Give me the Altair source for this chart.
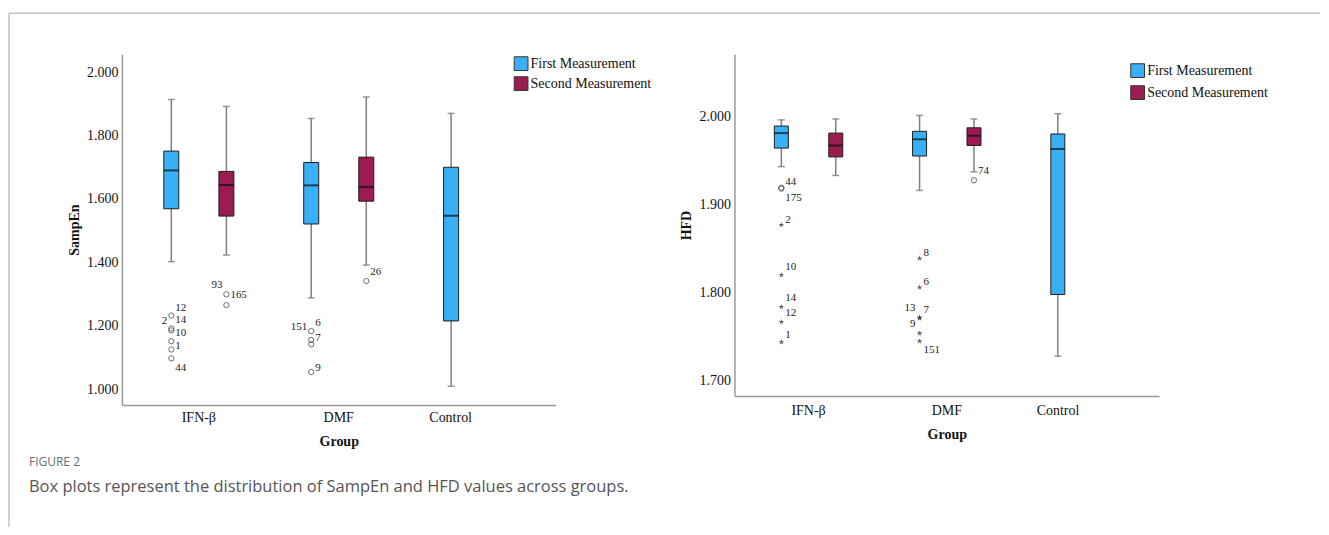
import altair as alt
import pandas as pd

GROUPS = ["IFN-β", "DMF", "Control"]
MEAS = ["First Measurement", "Second Measurement"]
F, S = MEAS

# ---- boxes (same order for both panels) ----
box_group = ["IFN-β", "IFN-β", "DMF", "DMF", "Control"]
box_meas = [F, S, F, S, F]

sampen_low = [1.402, 1.423, 1.288, 1.391, 1.009]
sampen_q1 = [1.569, 1.546, 1.521, 1.593, 1.215]
sampen_med = [1.690, 1.644, 1.643, 1.638, 1.547]
sampen_q3 = [1.751, 1.687, 1.715, 1.732, 1.700]
sampen_high = [1.914, 1.892, 1.854, 1.922, 1.870]

hfd_low = [1.943, 1.933, 1.916, 1.937, 1.728]
hfd_q1 = [1.964, 1.954, 1.955, 1.967, 1.798]
hfd_med = [1.981, 1.967, 1.974, 1.978, 1.963]
hfd_q3 = [1.989, 1.981, 1.983, 1.987, 1.980]
hfd_high = [1.996, 1.997, 2.001, 1.997, 2.003]

# ---- outliers ----
sampen_out_group = ["IFN-β"] * 8 + ["DMF"] * 5
sampen_out_meas = [F] * 6 + [S] * 2 + [F] * 4 + [S]
sampen_out_value = [1.232, 1.191, 1.185, 1.151, 1.125, 1.097, 1.299, 1.265,
                    1.183, 1.155, 1.141, 1.054, 1.341]
sampen_out_kind = ["outlier"] * 13

sampen_lab_group = ["IFN-β"] * 8 + ["DMF"] * 5
sampen_lab_meas = [F] * 6 + [S] * 2 + [F] * 4 + [S]
sampen_lab_text = ["12", "14", "2", "10", "1", "44", "93", "165", "151", "6", "7", "9", "26"]
sampen_lab_value = [1.256, 1.218, 1.215, 1.178, 1.136, 1.067, 1.327, 1.296,
                    1.196, 1.209, 1.160, 1.067, 1.369]
sampen_lab_side = ["right", "right", "left", "right", "right", "right", "left", "right",
                   "left", "right", "right", "right", "right"]

hfd_out_group = ["IFN-β"] * 7 + ["DMF"] * 7
hfd_out_meas = [F] * 7 + [F] * 6 + [S]
hfd_out_value = [1.919, 1.918, 1.877, 1.820, 1.784, 1.767, 1.744,
                 1.839, 1.806, 1.772, 1.771, 1.754, 1.745, 1.9275]
hfd_out_kind = ["outlier", "outlier"] + ["extreme"] * 5 + ["extreme"] * 6 + ["outlier"]

hfd_lab_group = ["IFN-β"] * 7 + ["DMF"] * 7
hfd_lab_meas = [F] * 7 + [F] * 6 + [S]
hfd_lab_text = ["44", "175", "2", "10", "14", "12", "1", "8", "6", "13", "7", "9", "151", "74"]
hfd_lab_value = [1.926, 1.9075, 1.882, 1.829, 1.794, 1.777, 1.752,
                 1.845, 1.812, 1.783, 1.780, 1.765, 1.735, 1.938]
hfd_lab_side = ["right"] * 7 + ["right", "right", "left", "right", "left", "right", "right"]

sampen_ticks = [1.0, 1.2, 1.4, 1.6, 1.8, 2.0]
hfd_ticks = [1.7, 1.8, 1.9, 2.0]

caption_label = "FIGURE 2"
caption_text = "Box plots represent the distribution of SampEn and HFD values across groups."

BLUE = "#39b0f5"
CRIMSON = "#9c1b50"
STAR = ("M0,-1L0.2245,-0.309L0.951,-0.309L0.363,0.118L0.588,0.809L0,0.382"
        "L-0.588,0.809L-0.363,0.118L-0.951,-0.309L-0.2245,-0.309Z")
SERIF = "Liberation Serif"


def panel(low, q1, med, q3, high, og, om, ov, ok, lg, lm, lt, lv, ls,
          ytitle, ydomain, yticks, width, height, po, barw, legx, legy, rowpad,
          ctrl_off, xlabpad):
    box_df = pd.DataFrame({"group": box_group, "measurement": box_meas,
                           "low": low, "q1": q1, "median": med, "q3": q3, "high": high})
    out_df = pd.DataFrame({"group": og, "measurement": om, "value": ov, "kind": ok})
    lab_df = pd.DataFrame({"group": lg, "measurement": lm, "text": lt, "value": lv, "side": ls})

    xaxis = alt.Axis(title="Group", labelAngle=0, labelPadding=xlabpad, titlePadding=10,
                     labelOffset={"condition": {"test": "datum.value === 'Control'",
                                                "value": ctrl_off}, "value": 0})
    yaxis = alt.Axis(title=ytitle, values=yticks, format=".3f", labelPadding=4, titlePadding=5)
    xs = alt.Scale(domain=GROUPS, paddingInner=0, paddingOuter=po)
    ys = alt.Scale(domain=ydomain, nice=False, zero=False)
    X = alt.X("group:N", scale=xs, axis=xaxis)
    XO = alt.XOffset("measurement:N", scale=alt.Scale(domain=MEAS, paddingInner=0, paddingOuter=0.27))

    def Y(f):
        return alt.Y(f + ":Q", scale=ys, axis=yaxis)

    base = alt.Chart(box_df).encode(x=X, xOffset=XO)
    whisk = base.mark_rule(color="#808080", strokeWidth=1.5).encode(y=Y("low"), y2="high:Q")
    cap_lo = base.mark_tick(color="#707070", size=7, thickness=1.5).encode(y=Y("low"))
    cap_hi = base.mark_tick(color="#707070", size=7, thickness=1.5).encode(y=Y("high"))
    box = base.mark_bar(size=barw, stroke="#1e1e1e", strokeWidth=1).encode(
        y=Y("q1"), y2="q3:Q",
        color=alt.Color("measurement:N", scale=alt.Scale(domain=MEAS, range=[BLUE, CRIMSON]),
                        legend=alt.Legend(orient="none", legendX=legx, legendY=legy, title=None,
                                          symbolType="square", symbolSize=190,
                                          symbolStrokeColor="#333", symbolStrokeWidth=1,
                                          labelFont=SERIF, labelFontSize=14, labelColor="#111",
                                          rowPadding=rowpad, labelOffset=2, padding=0)))
    medl = base.mark_tick(color="#0d0d1a", size=barw, thickness=2).encode(y=Y("median"))

    ob = alt.Chart(out_df).encode(x=X, xOffset=XO, y=Y("value"))
    circ = ob.transform_filter("datum.kind === 'outlier'").mark_point(
        shape="circle", filled=False, color="#333", size=28, strokeWidth=1)
    star = ob.transform_filter("datum.kind === 'extreme'").mark_point(
        shape=STAR, filled=True, color="#222", size=36)

    lb = alt.Chart(lab_df).encode(x=X, xOffset=XO, y=Y("value"), text="text:N")
    lab_r = lb.transform_filter("datum.side === 'right'").mark_text(
        align="left", baseline="middle", dx=4, font=SERIF, fontSize=11, color="#222")
    lab_l = lb.transform_filter("datum.side === 'left'").mark_text(
        align="right", baseline="middle", dx=-4, font=SERIF, fontSize=11, color="#222")

    return [whisk, cap_lo, cap_hi, box, medl, circ, star, lab_r, lab_l], (width, height)


left_layers, (lw, lh) = panel(sampen_low, sampen_q1, sampen_med, sampen_q3, sampen_high,
                              sampen_out_group, sampen_out_meas, sampen_out_value, sampen_out_kind,
                              sampen_lab_group, sampen_lab_meas, sampen_lab_text, sampen_lab_value,
                              sampen_lab_side, "SampEn", [0.95, 2.057], sampen_ticks,
                              434, 351, 0.05, 15, 392, 2, 1, -28, 6)

right_layers, (rw, rh) = panel(hfd_low, hfd_q1, hfd_med, hfd_q3, hfd_high,
                               hfd_out_group, hfd_out_meas, hfd_out_value, hfd_out_kind,
                               hfd_lab_group, hfd_lab_meas, hfd_lab_text, hfd_lab_value,
                               hfd_lab_side, "HFD", [1.683, 2.0705], hfd_ticks,
                               425, 342, 0.036, 14, 396, 9, 3, -27, 8)

# decorations (frame + caption) attached to the left panel
one = pd.DataFrame({"label": [caption_label], "text": [caption_text]})
frame_top = alt.Chart(one).mark_rule(color="#c2c2c2", strokeWidth=1.5).encode(
    x=alt.value(-113), x2=alt.value(1199), y=alt.value(-41))
frame_left = alt.Chart(one).mark_rule(color="#c2c2c2", strokeWidth=1.5).encode(
    x=alt.value(-113), y=alt.value(-41), y2=alt.value(473))
cap1 = alt.Chart(one).mark_text(align="left", baseline="middle", font="Open Sans",
                                fontSize=12, color="#5f6e76").encode(
    x=alt.value(-93), y=alt.value(408), text="label:N")
cap2 = alt.Chart(one).mark_text(align="left", baseline="middle", font="Open Sans",
                                fontSize=16.5, color="#555555").encode(
    x=alt.value(-93), y=alt.value(433), text="text:N")

left = alt.layer(*left_layers, frame_top, frame_left, cap1, cap2).properties(width=lw, height=lh)
right = alt.layer(*right_layers).properties(width=rw, height=rh)

chart = alt.hconcat(left, right, spacing=179, bounds="flush").resolve_scale(
    x="independent", y="independent", xOffset="independent", color="independent"
).resolve_legend(color="independent").properties(
    padding={"left": 0, "top": 4, "right": 0, "bottom": 0}
).configure_view(stroke=None).configure_axis(
    domainColor="#9a9a9a", domainWidth=1.5, ticks=False, grid=False,
    labelFont=SERIF, labelFontSize=14, labelColor="#111",
    titleFont=SERIF, titleFontSize=14, titleFontWeight="bold", titleColor="#111"
)

chart.save("out.html", embed_options={"renderer": "svg", "actions": False})
